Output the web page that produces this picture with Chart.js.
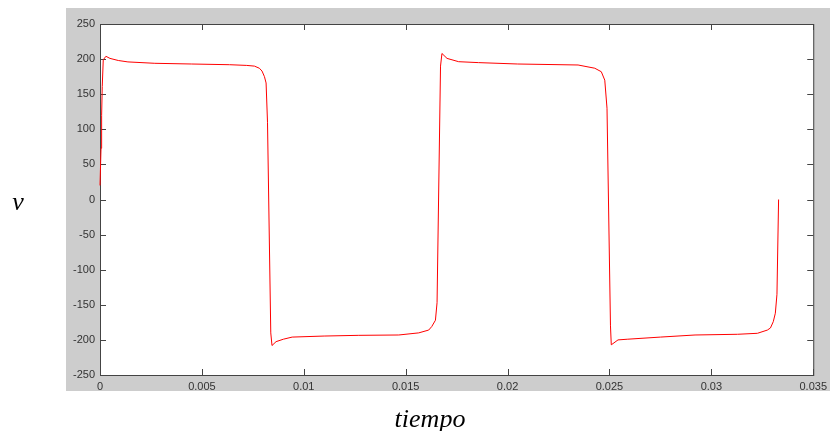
<!DOCTYPE html>
<html>
<head>
<meta charset="utf-8">
<script src="https://cdn.jsdelivr.net/npm/chart.js@4.4.1/dist/chart.umd.min.js"></script>
<style>
  html, body { margin: 0; padding: 0; background: #ffffff; }
  canvas { display: block; }
</style>
</head>
<body>
<canvas id="grafica" width="832" height="431"></canvas>
<script>
// tiempo (s) y voltaje (V)
const tiempo = [
  0, 0.00005, 0.00008, 0.00011, 0.00016, 0.00029, 0.00049, 0.0009, 0.00137, 0.00269,
  0.0045, 0.00636, 0.0072, 0.00758, 0.00782, 0.00795, 0.00807, 0.00815, 0.00822, 0.00838,
  0.00844, 0.00864, 0.0090, 0.00943, 0.0110, 0.0127, 0.01466, 0.01564, 0.01613, 0.01628,
  0.01646, 0.01654, 0.01671, 0.01678, 0.01703, 0.0176, 0.01857, 0.0205, 0.02346, 0.02428,
  0.0246, 0.02477, 0.02488, 0.02505, 0.02509, 0.02542, 0.0259, 0.0275, 0.0292, 0.03128,
  0.03226, 0.03275, 0.0329, 0.03304, 0.03314, 0.03322, 0.0333
];
const voltaje = [
  20, 73, 120, 161, 199, 204, 201, 198, 196, 194,
  193, 192, 191, 190, 187, 183, 175, 166, 110, -190,
  -208, -202.5, -199, -196, -194.5, -193.5, -193, -190, -186, -181,
  -172, -147, 190, 208, 201, 196.3, 195, 193, 191.6, 187,
  182, 170, 130, -180, -207, -200, -199, -196, -193, -192,
  -190.6, -186, -183, -174, -162, -135, 0
];

const xTicks = [0, 0.005, 0.01, 0.015, 0.02, 0.025, 0.03, 0.035];
const xTickLabels = ['0', '0.005', '0.01', '0.015', '0.02', '0.025', '0.03', '0.035'];
const yTicks = [-250, -200, -150, -100, -50, 0, 50, 100, 150, 200, 250];
const yTickLabels = ['-250', '-200', '-150', '-100', '-50', '0', '50', '100', '150', '200', '250'];

const puntos = tiempo.map((t, i) => ({ x: t, y: voltaje[i] }));

// marco gris, area blanca, caja y marcas hacia adentro (debajo de la curva)
const marcoPlugin = {
  id: 'marco',
  beforeDraw(chart) {
    const ctx = chart.ctx;
    const a = chart.chartArea;
    ctx.save();
    ctx.fillStyle = '#cdcdcd';
    ctx.fillRect(66, 8, 764, 383);
    ctx.fillStyle = '#ffffff';
    ctx.fillRect(a.left, a.top, a.right - a.left, a.bottom - a.top);
    ctx.restore();
  },
  beforeDatasetsDraw(chart) {
    const ctx = chart.ctx;
    const a = chart.chartArea;
    const sx = chart.scales.x;
    const sy = chart.scales.y;
    const largo = 6;
    ctx.save();
    ctx.strokeStyle = '#444444';
    ctx.lineWidth = 1;
    ctx.strokeRect(a.left + 0.5, a.top + 0.5, a.right - a.left, a.bottom - a.top);
    ctx.beginPath();
    xTicks.forEach(v => {
      const px = Math.round(sx.getPixelForValue(v)) + 0.5;
      ctx.moveTo(px, a.bottom);
      ctx.lineTo(px, a.bottom - largo);
      ctx.moveTo(px, a.top);
      ctx.lineTo(px, a.top + largo);
    });
    yTicks.forEach(v => {
      const py = Math.round(sy.getPixelForValue(v)) + 0.5;
      ctx.moveTo(a.left, py);
      ctx.lineTo(a.left + largo, py);
      ctx.moveTo(a.right, py);
      ctx.lineTo(a.right - largo, py);
    });
    ctx.stroke();
    ctx.restore();
  },
  afterDraw(chart) {
    const ctx = chart.ctx;
    ctx.save();
    ctx.fillStyle = '#000000';
    ctx.font = 'italic 26px "Liberation Serif", "DejaVu Serif", serif';
    ctx.textAlign = 'center';
    ctx.textBaseline = 'alphabetic';
    ctx.fillText('v', 18, 210);
    ctx.fillText('tiempo', 430, 427);
    ctx.restore();
  }
};

const ctx = document.getElementById('grafica').getContext('2d');
const grafica = new Chart(ctx, {
  type: 'scatter',
  data: {
    datasets: [{
      label: 'v',
      data: puntos,
      showLine: true,
      borderColor: '#ff0000',
      borderWidth: 1,
      pointRadius: 0,
      tension: 0,
      fill: false,
      clip: 4
    }]
  },
  options: {
    responsive: false,
    animation: false,
    events: [],
    layout: { padding: { top: 24, right: 16, left: 0, bottom: 0 } },
    plugins: {
      legend: { display: false },
      tooltip: { enabled: false }
    },
    scales: {
      x: {
        type: 'linear',
        min: 0,
        max: 0.035,
        grid: { display: false, drawTicks: false },
        border: { display: false },
        afterBuildTicks(scale) {
          scale.ticks = xTicks.map(v => ({ value: v }));
        },
        afterFit(scale) {
          scale.height = 56;
        },
        ticks: {
          color: '#333333',
          padding: 5,
          maxRotation: 0,
          autoSkip: false,
          font: { family: '"Liberation Sans", Arial, sans-serif', size: 11 },
          callback: (value, index) => xTickLabels[index]
        }
      },
      y: {
        type: 'linear',
        min: -250,
        max: 250,
        grid: { display: false, drawTicks: false },
        border: { display: false },
        afterBuildTicks(scale) {
          scale.ticks = yTicks.map(v => ({ value: v }));
        },
        afterFit(scale) {
          scale.width = 100;
        },
        ticks: {
          color: '#333333',
          padding: 5,
          autoSkip: false,
          font: { family: '"Liberation Sans", Arial, sans-serif', size: 11 },
          callback: (value, index) => yTickLabels[index]
        }
      }
    }
  },
  plugins: [marcoPlugin]
});
</script>
</body>
</html>
